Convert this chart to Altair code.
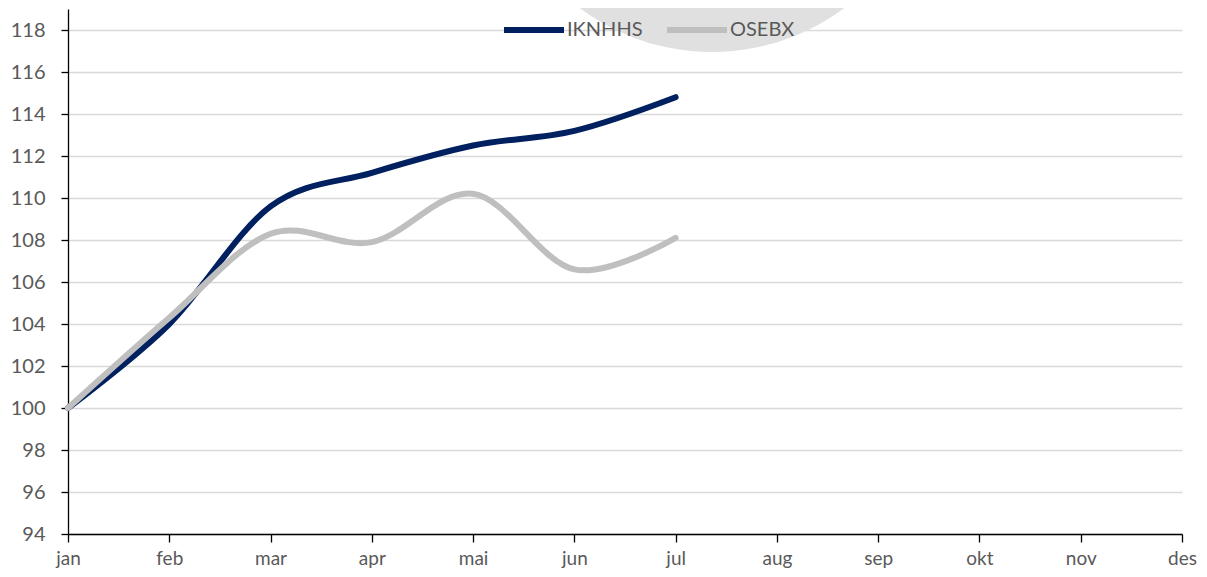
import altair as alt
import pandas as pd
import math

months = ["jan", "feb", "mar", "apr", "mai", "jun", "jul", "aug", "sep", "okt", "nov", "des"]
iknhhs = [100.0, 104.0, 109.6, 111.2, 112.5, 113.2, 114.8]
osebx = [100.0, 104.3, 108.3, 107.9, 110.2, 106.6, 108.1]
y_ticks = list(range(94, 119, 2))

rows = []
for i, v in enumerate(iknhhs):
    rows.append({"m": i, "serie": "IKNHHS", "verdi": v, "ord": 0})
for i, v in enumerate(osebx):
    rows.append({"m": i, "serie": "OSEBX", "verdi": v, "ord": 1})
df = pd.DataFrame(rows)

FONT = "Lato"
GRAY = "#595959"

label_expr = "[" + ",".join(f"'{m}'" for m in months) + "][datum.value]"

x_enc = alt.X("m:Q", scale=alt.Scale(domain=[0, 11], nice=False),
              axis=alt.Axis(values=list(range(12)), labelExpr=label_expr, title=None,
                            grid=False, domainColor="#000000", domainWidth=1.3,
                            tickColor="#000000", tickSize=8, tickWidth=1.3,
                            labelFontSize=19, labelColor=GRAY, labelFont=FONT,
                            labelPadding=7, labelFlush=False))
y_enc = alt.Y("verdi:Q", scale=alt.Scale(domain=[94, 119], nice=False, zero=False),
              axis=alt.Axis(values=y_ticks, title=None, grid=True, gridColor="#d9d9d9",
                            gridWidth=1.5, domainColor="#000000", domainWidth=1.3,
                            tickColor="#000000", tickSize=7, tickWidth=1.3,
                            labelFontSize=20, labelColor=GRAY, labelFont=FONT,
                            labelPadding=16))

circle = alt.Chart(pd.DataFrame({"c": [1]})).mark_point(
    filled=True, shape="circle", color="#e0e0e0", opacity=1, clip=False
).encode(
    x=alt.value(644), y=alt.value(-178), size=alt.value(442 ** 2)
)

lines = alt.Chart(df).mark_line(
    strokeWidth=6, interpolate="cardinal", strokeCap="round", strokeJoin="round"
).encode(
    x=x_enc, y=y_enc,
    color=alt.Color("serie:N",
                    scale=alt.Scale(domain=["IKNHHS", "OSEBX"], range=["#002060", "#bfbfbf"]),
                    legend=alt.Legend(title=None, orient="none", direction="horizontal",
                                      legendX=433, legendY=-12,
                                      symbolType="stroke", symbolSize=3600,
                                      symbolStrokeWidth=6, labelFontSize=20,
                                      labelColor=GRAY, labelFont=FONT, labelOffset=0,
                                      columnPadding=12)),
    order="ord:O",
)

chart = alt.layer(circle, lines).properties(
    width=1114, height=525,
    autosize=alt.AutoSizeParams(type="none"),
    padding={"left": 60, "top": 1, "right": 17, "bottom": 35},
).configure_view(stroke=None)

chart.save("out.html", embed_options={"renderer": "svg", "actions": False})
